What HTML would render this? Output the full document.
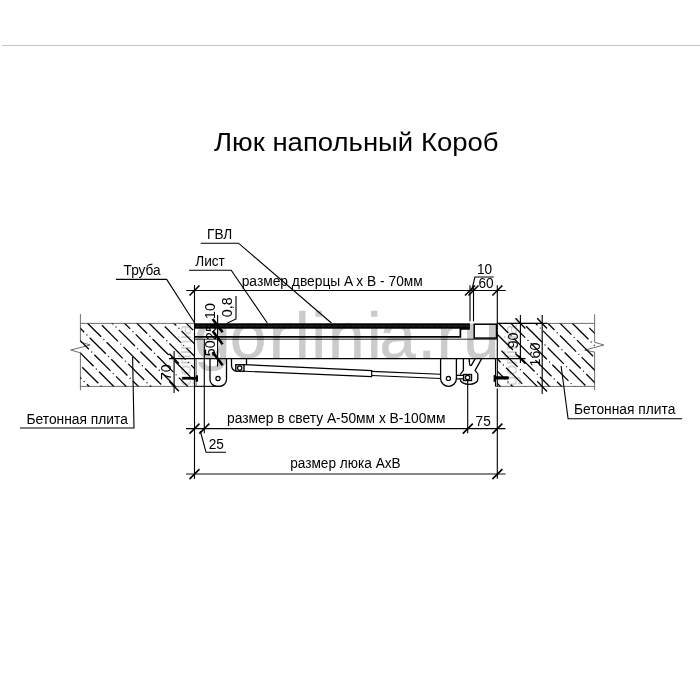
<!DOCTYPE html>
<html lang="ru"><head><meta charset="utf-8"><title>Люк напольный Короб</title>
<style>
html,body{margin:0;padding:0;background:#fff}
body{width:700px;height:700px;position:relative;overflow:hidden;font-family:"Liberation Sans",Arial,sans-serif}
.rule{position:absolute;left:2px;top:45px;width:698px;height:1px;background:#c6c6c6}
svg{position:absolute;left:0;top:0;filter:grayscale(1);font-family:"Liberation Sans",Arial,sans-serif}
</style></head><body>
<div class="rule"></div>
<svg width="700" height="700" viewBox="0 0 700 700">
<defs>
<clipPath id="cl"><rect x="80.4" y="323.4" width="114.1" height="63"/></clipPath>
<clipPath id="cr"><rect x="497.3" y="323.4" width="97.3" height="63"/></clipPath>
</defs>
<text x="194.3 230 269.1 294.9 311.4 328.3 367.1 379.5 417.7 436.8 463.2" y="358.4" font-size="65" fill="#cbcbcb" stroke="#cbcbcb" stroke-width="0.6">gorlinia.ru</text>
<text x="191" y="385.9" font-size="17.5" fill="#d0d0d0" transform="rotate(-90 191 385.9)" textLength="61.4" lengthAdjust="spacingAndGlyphs">gorlinia</text>
<text x="516.8" y="385.9" font-size="17.5" fill="#d0d0d0" transform="rotate(-90 516.8 385.9)" textLength="61.4" lengthAdjust="spacingAndGlyphs">gorlinia</text>
<path d="M80.4 314 V342 L90.1 345 L70.7 350 L80.4 352.9 V390.3" stroke="#606060" stroke-width="0.9" fill="none" stroke-linejoin="round"/>
<line x1="80.40" y1="323.40" x2="194.50" y2="323.40" stroke="#606060" stroke-width="0.9" />
<line x1="80.40" y1="386.40" x2="194.50" y2="386.40" stroke="#606060" stroke-width="0.9" />
<line x1="194.50" y1="386.35" x2="220.50" y2="386.35" stroke="#000" stroke-width="1.1" />
<g clip-path="url(#cl)" stroke="#000" stroke-width="1.3" stroke-linecap="butt">
<line x1="65.30" y1="362.65" x2="81.40" y2="378.75"/>
<circle cx="84.15" cy="381.50" r="0.72" fill="#222" stroke="none"/>
<line x1="86.90" y1="384.25" x2="103.00" y2="400.35"/>
<circle cx="105.75" cy="403.10" r="0.72" fill="#222" stroke="none"/>
<line x1="82.20" y1="367.22" x2="98.30" y2="383.32"/>
<circle cx="101.05" cy="386.07" r="0.72" fill="#222" stroke="none"/>
<line x1="77.50" y1="350.19" x2="93.60" y2="366.29"/>
<circle cx="96.35" cy="369.04" r="0.72" fill="#222" stroke="none"/>
<line x1="99.10" y1="371.79" x2="115.20" y2="387.89"/>
<circle cx="117.95" cy="390.64" r="0.72" fill="#222" stroke="none"/>
<line x1="72.80" y1="333.16" x2="88.90" y2="349.26"/>
<circle cx="91.65" cy="352.01" r="0.72" fill="#222" stroke="none"/>
<line x1="94.40" y1="354.76" x2="110.50" y2="370.86"/>
<circle cx="113.25" cy="373.61" r="0.72" fill="#222" stroke="none"/>
<line x1="116.00" y1="376.36" x2="132.10" y2="392.46"/>
<circle cx="134.85" cy="395.21" r="0.72" fill="#222" stroke="none"/>
<line x1="68.10" y1="316.13" x2="84.20" y2="332.23"/>
<circle cx="86.95" cy="334.98" r="0.72" fill="#222" stroke="none"/>
<line x1="89.70" y1="337.73" x2="105.80" y2="353.83"/>
<circle cx="108.55" cy="356.58" r="0.72" fill="#222" stroke="none"/>
<line x1="111.30" y1="359.33" x2="127.40" y2="375.43"/>
<circle cx="130.15" cy="378.18" r="0.72" fill="#222" stroke="none"/>
<line x1="132.90" y1="380.93" x2="149.00" y2="397.03"/>
<circle cx="151.75" cy="399.78" r="0.72" fill="#222" stroke="none"/>
<line x1="85.00" y1="320.70" x2="101.10" y2="336.80"/>
<circle cx="103.85" cy="339.55" r="0.72" fill="#222" stroke="none"/>
<line x1="106.60" y1="342.30" x2="122.70" y2="358.40"/>
<circle cx="125.45" cy="361.15" r="0.72" fill="#222" stroke="none"/>
<line x1="128.20" y1="363.90" x2="144.30" y2="380.00"/>
<circle cx="147.05" cy="382.75" r="0.72" fill="#222" stroke="none"/>
<line x1="149.80" y1="385.50" x2="165.90" y2="401.60"/>
<circle cx="168.65" cy="404.35" r="0.72" fill="#222" stroke="none"/>
<line x1="101.90" y1="325.27" x2="118.00" y2="341.37"/>
<circle cx="120.75" cy="344.12" r="0.72" fill="#222" stroke="none"/>
<line x1="123.50" y1="346.87" x2="139.60" y2="362.97"/>
<circle cx="142.35" cy="365.72" r="0.72" fill="#222" stroke="none"/>
<line x1="145.10" y1="368.47" x2="161.20" y2="384.57"/>
<circle cx="163.95" cy="387.32" r="0.72" fill="#222" stroke="none"/>
<line x1="97.20" y1="308.24" x2="113.30" y2="324.34"/>
<circle cx="116.05" cy="327.09" r="0.72" fill="#222" stroke="none"/>
<line x1="118.80" y1="329.84" x2="134.90" y2="345.94"/>
<circle cx="137.65" cy="348.69" r="0.72" fill="#222" stroke="none"/>
<line x1="140.40" y1="351.44" x2="156.50" y2="367.54"/>
<circle cx="159.25" cy="370.29" r="0.72" fill="#222" stroke="none"/>
<line x1="162.00" y1="373.04" x2="178.10" y2="389.14"/>
<circle cx="180.85" cy="391.89" r="0.72" fill="#222" stroke="none"/>
<line x1="114.10" y1="312.81" x2="130.20" y2="328.91"/>
<circle cx="132.95" cy="331.66" r="0.72" fill="#222" stroke="none"/>
<line x1="135.70" y1="334.41" x2="151.80" y2="350.51"/>
<circle cx="154.55" cy="353.26" r="0.72" fill="#222" stroke="none"/>
<line x1="157.30" y1="356.01" x2="173.40" y2="372.11"/>
<circle cx="176.15" cy="374.86" r="0.72" fill="#222" stroke="none"/>
<line x1="178.90" y1="377.61" x2="195.00" y2="393.71"/>
<circle cx="197.75" cy="396.46" r="0.72" fill="#222" stroke="none"/>
<line x1="131.00" y1="317.38" x2="147.10" y2="333.48"/>
<circle cx="149.85" cy="336.23" r="0.72" fill="#222" stroke="none"/>
<line x1="152.60" y1="338.98" x2="168.70" y2="355.08"/>
<circle cx="171.45" cy="357.83" r="0.72" fill="#222" stroke="none"/>
<line x1="174.20" y1="360.58" x2="190.30" y2="376.68"/>
<circle cx="193.05" cy="379.43" r="0.72" fill="#222" stroke="none"/>
<line x1="147.90" y1="321.95" x2="164.00" y2="338.05"/>
<circle cx="166.75" cy="340.80" r="0.72" fill="#222" stroke="none"/>
<line x1="169.50" y1="343.55" x2="185.60" y2="359.65"/>
<circle cx="188.35" cy="362.40" r="0.72" fill="#222" stroke="none"/>
<line x1="191.10" y1="365.15" x2="207.20" y2="381.25"/>
<circle cx="209.95" cy="384.00" r="0.72" fill="#222" stroke="none"/>
<line x1="164.80" y1="326.52" x2="180.90" y2="342.62"/>
<circle cx="183.65" cy="345.37" r="0.72" fill="#222" stroke="none"/>
<line x1="186.40" y1="348.12" x2="202.50" y2="364.22"/>
<circle cx="205.25" cy="366.97" r="0.72" fill="#222" stroke="none"/>
<line x1="160.10" y1="309.49" x2="176.20" y2="325.59"/>
<circle cx="178.95" cy="328.34" r="0.72" fill="#222" stroke="none"/>
<line x1="181.70" y1="331.09" x2="197.80" y2="347.19"/>
<circle cx="200.55" cy="349.94" r="0.72" fill="#222" stroke="none"/>
<line x1="177.00" y1="314.06" x2="193.10" y2="330.16"/>
<circle cx="195.85" cy="332.91" r="0.72" fill="#222" stroke="none"/>
</g>
<path d="M594.6 314.3 V342.3 L603.9 345 L584.7 350.1 L594.6 352 V390" stroke="#606060" stroke-width="0.9" fill="none" stroke-linejoin="round"/>
<line x1="497.30" y1="323.40" x2="594.60" y2="323.40" stroke="#606060" stroke-width="0.9" />
<line x1="495.50" y1="386.40" x2="594.60" y2="386.40" stroke="#606060" stroke-width="0.9" />
<g clip-path="url(#cr)" stroke="#000" stroke-width="1.3" stroke-linecap="butt">
<line x1="493.85" y1="380.05" x2="509.95" y2="396.15"/>
<circle cx="512.70" cy="398.90" r="0.72" fill="#222" stroke="none"/>
<line x1="489.20" y1="363.10" x2="505.30" y2="379.20"/>
<circle cx="508.05" cy="381.95" r="0.72" fill="#222" stroke="none"/>
<line x1="510.80" y1="384.70" x2="526.90" y2="400.80"/>
<circle cx="529.65" cy="403.55" r="0.72" fill="#222" stroke="none"/>
<line x1="484.55" y1="346.15" x2="500.65" y2="362.25"/>
<circle cx="503.40" cy="365.00" r="0.72" fill="#222" stroke="none"/>
<line x1="506.15" y1="367.75" x2="522.25" y2="383.85"/>
<circle cx="525.00" cy="386.60" r="0.72" fill="#222" stroke="none"/>
<line x1="501.50" y1="350.80" x2="517.60" y2="366.90"/>
<circle cx="520.35" cy="369.65" r="0.72" fill="#222" stroke="none"/>
<line x1="523.10" y1="372.40" x2="539.20" y2="388.50"/>
<circle cx="541.95" cy="391.25" r="0.72" fill="#222" stroke="none"/>
<line x1="496.85" y1="333.85" x2="512.95" y2="349.95"/>
<circle cx="515.70" cy="352.70" r="0.72" fill="#222" stroke="none"/>
<line x1="518.45" y1="355.45" x2="534.55" y2="371.55"/>
<circle cx="537.30" cy="374.30" r="0.72" fill="#222" stroke="none"/>
<line x1="540.05" y1="377.05" x2="556.15" y2="393.15"/>
<circle cx="558.90" cy="395.90" r="0.72" fill="#222" stroke="none"/>
<line x1="492.20" y1="316.90" x2="508.30" y2="333.00"/>
<circle cx="511.05" cy="335.75" r="0.72" fill="#222" stroke="none"/>
<line x1="513.80" y1="338.50" x2="529.90" y2="354.60"/>
<circle cx="532.65" cy="357.35" r="0.72" fill="#222" stroke="none"/>
<line x1="535.40" y1="360.10" x2="551.50" y2="376.20"/>
<circle cx="554.25" cy="378.95" r="0.72" fill="#222" stroke="none"/>
<line x1="557.00" y1="381.70" x2="573.10" y2="397.80"/>
<circle cx="575.85" cy="400.55" r="0.72" fill="#222" stroke="none"/>
<line x1="509.15" y1="321.55" x2="525.25" y2="337.65"/>
<circle cx="528.00" cy="340.40" r="0.72" fill="#222" stroke="none"/>
<line x1="530.75" y1="343.15" x2="546.85" y2="359.25"/>
<circle cx="549.60" cy="362.00" r="0.72" fill="#222" stroke="none"/>
<line x1="552.35" y1="364.75" x2="568.45" y2="380.85"/>
<circle cx="571.20" cy="383.60" r="0.72" fill="#222" stroke="none"/>
<line x1="573.95" y1="386.35" x2="590.05" y2="402.45"/>
<circle cx="592.80" cy="405.20" r="0.72" fill="#222" stroke="none"/>
<line x1="526.10" y1="326.20" x2="542.20" y2="342.30"/>
<circle cx="544.95" cy="345.05" r="0.72" fill="#222" stroke="none"/>
<line x1="547.70" y1="347.80" x2="563.80" y2="363.90"/>
<circle cx="566.55" cy="366.65" r="0.72" fill="#222" stroke="none"/>
<line x1="569.30" y1="369.40" x2="585.40" y2="385.50"/>
<circle cx="588.15" cy="388.25" r="0.72" fill="#222" stroke="none"/>
<line x1="521.45" y1="309.25" x2="537.55" y2="325.35"/>
<circle cx="540.30" cy="328.10" r="0.72" fill="#222" stroke="none"/>
<line x1="543.05" y1="330.85" x2="559.15" y2="346.95"/>
<circle cx="561.90" cy="349.70" r="0.72" fill="#222" stroke="none"/>
<line x1="564.65" y1="352.45" x2="580.75" y2="368.55"/>
<circle cx="583.50" cy="371.30" r="0.72" fill="#222" stroke="none"/>
<line x1="586.25" y1="374.05" x2="602.35" y2="390.15"/>
<circle cx="605.10" cy="392.90" r="0.72" fill="#222" stroke="none"/>
<line x1="538.40" y1="313.90" x2="554.50" y2="330.00"/>
<circle cx="557.25" cy="332.75" r="0.72" fill="#222" stroke="none"/>
<line x1="560.00" y1="335.50" x2="576.10" y2="351.60"/>
<circle cx="578.85" cy="354.35" r="0.72" fill="#222" stroke="none"/>
<line x1="581.60" y1="357.10" x2="597.70" y2="373.20"/>
<circle cx="600.45" cy="375.95" r="0.72" fill="#222" stroke="none"/>
<line x1="555.35" y1="318.55" x2="571.45" y2="334.65"/>
<circle cx="574.20" cy="337.40" r="0.72" fill="#222" stroke="none"/>
<line x1="576.95" y1="340.15" x2="593.05" y2="356.25"/>
<circle cx="595.80" cy="359.00" r="0.72" fill="#222" stroke="none"/>
<line x1="572.30" y1="323.20" x2="588.40" y2="339.30"/>
<circle cx="591.15" cy="342.05" r="0.72" fill="#222" stroke="none"/>
<line x1="593.90" y1="344.80" x2="610.00" y2="360.90"/>
<circle cx="612.75" cy="363.65" r="0.72" fill="#222" stroke="none"/>
<line x1="589.25" y1="327.85" x2="605.35" y2="343.95"/>
<circle cx="608.10" cy="346.70" r="0.72" fill="#222" stroke="none"/>
</g>
<rect x="194.5" y="323.3" width="275.4" height="5.4" fill="#000"/>
<line x1="196.00" y1="326.00" x2="469.00" y2="326.00" stroke="#5a5a5a" stroke-width="1.12" stroke-dasharray="0.6 0.6"/>
<path d="M194.5 336.9 H460.4 V328.9 H469.8" stroke="#000" stroke-width="1.7" fill="none" />
<line x1="194.50" y1="339.20" x2="497.00" y2="339.20" stroke="#111" stroke-width="0.9" />
<rect x="474.2" y="324.2" width="22.2" height="13.9" fill="none" stroke="#000" stroke-width="1.5"/>
<line x1="169.00" y1="358.60" x2="525.50" y2="358.60" stroke="#000" stroke-width="1.1" />
<line x1="196.10" y1="358.60" x2="196.10" y2="386.40" stroke="#444" stroke-width="0.9" />
<line x1="495.50" y1="358.60" x2="495.50" y2="386.40" stroke="#000" stroke-width="1.12" />
<rect x="182.2" y="376.9" width="14" height="2.7" fill="#000"/>
<rect x="195.8" y="375.3" width="2.2" height="6.4" fill="#000"/>
<rect x="495" y="376.3" width="14" height="3.2" rx="1.4" fill="#000"/>
<rect x="493.6" y="375.1" width="1.9" height="6.7" fill="#000"/>
<path d="M210 358.6 V379.5 A6.8 6.8 0 0 0 216.8 386.3 H219.7 A6.8 6.8 0 0 0 226.5 379.5 V358.6" stroke="#000" stroke-width="1.3" fill="none" />
<circle cx="218" cy="378.5" r="2.1" fill="none" stroke="#000" stroke-width="1.2"/>
<path d="M231.5 358.6 V365.5 Q231.8 370.2 236 371" stroke="#000" stroke-width="1.3" fill="none" />
<rect x="235.8" y="364.8" width="8.2" height="6.4" fill="none" stroke="#000" stroke-width="1.4"/>
<circle cx="239.7" cy="368.1" r="2.2" fill="none" stroke="#000" stroke-width="1.2"/>
<line x1="246.50" y1="358.60" x2="246.50" y2="364.70" stroke="#000" stroke-width="1.3" />
<path d="M244 364.6 L371.7 370.6 L371.7 376.6 L244 371.2" stroke="#000" stroke-width="1.15" fill="none" />
<path d="M371.7 371.4 L440.5 374.3 M371.7 375.5 L440.5 378.5" stroke="#000" stroke-width="1.1" fill="none" />
<path d="M440.6 358.6 V378.4 A7.9 7.9 0 0 0 456.4 378.4 V358.6" stroke="#000" stroke-width="1.3" fill="none" />
<circle cx="448.4" cy="378.4" r="2.1" fill="none" stroke="#000" stroke-width="1.2"/>
<path d="M456.4 375.3 H463.8 M456.4 378.9 H463.8" stroke="#000" stroke-width="1.2" fill="none" />
<path d="M463.4 358.6 V370.3 L460.1 374.6 M460.3 379.4 A8.75 4.9 0 0 0 477.8 379.4 V373.9 L475.1 370.5 L481.7 358.6" stroke="#000" stroke-width="1.3" fill="none" />
<path d="M469.1 358.6 L469.6 364.5 Q470.2 365.9 471.5 365.1 L475.2 358.6" stroke="#000" stroke-width="1.3" fill="none" />
<rect x="463.6" y="374.5" width="7.9" height="6" fill="none" stroke="#000" stroke-width="1.4"/>
<circle cx="467.6" cy="377.5" r="2.2" fill="none" stroke="#000" stroke-width="1.2"/>
<line x1="194.50" y1="285.00" x2="194.50" y2="478.80" stroke="#000" stroke-width="1.12" />
<line x1="204.30" y1="339.00" x2="204.30" y2="433.30" stroke="#000" stroke-width="1.12" />
<line x1="467.70" y1="380.50" x2="467.70" y2="433.30" stroke="#000" stroke-width="1.12" />
<line x1="497.30" y1="285.30" x2="497.30" y2="386.80" stroke="#000" stroke-width="1.12" />
<line x1="497.30" y1="388.60" x2="497.30" y2="478.80" stroke="#000" stroke-width="1.12" />
<line x1="470.00" y1="285.30" x2="470.00" y2="321.30" stroke="#000" stroke-width="1.12" />
<line x1="473.50" y1="285.30" x2="473.50" y2="321.30" stroke="#000" stroke-width="1.12" />
<line x1="186.20" y1="290.50" x2="505.70" y2="290.50" stroke="#000" stroke-width="1.12" />
<line x1="189.50" y1="295.50" x2="199.50" y2="285.50" stroke="#000" stroke-width="1.6" />
<line x1="465.00" y1="295.50" x2="475.00" y2="285.50" stroke="#000" stroke-width="1.6" />
<line x1="468.50" y1="295.50" x2="478.50" y2="285.50" stroke="#000" stroke-width="1.6" />
<line x1="492.40" y1="295.50" x2="502.40" y2="285.50" stroke="#000" stroke-width="1.6" />
<line x1="186.00" y1="428.60" x2="505.50" y2="428.60" stroke="#000" stroke-width="1.12" />
<line x1="189.50" y1="433.60" x2="199.50" y2="423.60" stroke="#000" stroke-width="1.6" />
<line x1="199.30" y1="433.60" x2="209.30" y2="423.60" stroke="#000" stroke-width="1.6" />
<line x1="462.80" y1="433.60" x2="472.80" y2="423.60" stroke="#000" stroke-width="1.6" />
<line x1="492.40" y1="433.60" x2="502.40" y2="423.60" stroke="#000" stroke-width="1.6" />
<line x1="186.00" y1="474.00" x2="505.50" y2="474.00" stroke="#111" stroke-width="1.12" />
<line x1="189.50" y1="479.10" x2="199.50" y2="469.10" stroke="#000" stroke-width="1.6" />
<line x1="492.40" y1="479.10" x2="502.40" y2="469.10" stroke="#000" stroke-width="1.6" />
<line x1="217.60" y1="315.00" x2="217.60" y2="366.50" stroke="#000" stroke-width="1.12" />
<line x1="212.60" y1="319.00" x2="222.60" y2="332.20" stroke="#000" stroke-width="2.6" />
<line x1="212.60" y1="331.00" x2="222.60" y2="344.20" stroke="#000" stroke-width="2.6" />
<line x1="212.60" y1="352.00" x2="222.60" y2="365.20" stroke="#000" stroke-width="2.6" />
<line x1="174.10" y1="351.00" x2="174.10" y2="393.00" stroke="#000" stroke-width="1.12" />
<line x1="169.30" y1="353.70" x2="178.90" y2="363.50" stroke="#000" stroke-width="1.45" />
<line x1="169.30" y1="381.50" x2="178.90" y2="391.30" stroke="#000" stroke-width="1.45" />
<line x1="520.40" y1="315.00" x2="520.40" y2="363.00" stroke="#000" stroke-width="1.12" />
<line x1="515.50" y1="318.30" x2="525.30" y2="328.50" stroke="#000" stroke-width="1.4" />
<line x1="515.50" y1="353.50" x2="525.30" y2="363.70" stroke="#000" stroke-width="1.4" />
<line x1="542.20" y1="315.00" x2="542.20" y2="394.00" stroke="#000" stroke-width="1.12" />
<line x1="537.20" y1="318.30" x2="547.00" y2="328.50" stroke="#000" stroke-width="1.4" />
<line x1="537.20" y1="381.30" x2="547.00" y2="391.50" stroke="#000" stroke-width="1.4" />
<line x1="497.30" y1="323.40" x2="547.00" y2="323.40" stroke="#000" stroke-width="1.12" />
<path d="M200.8 243.2 H238.5 L331.4 323" stroke="#000" stroke-width="1.12" fill="none" />
<path d="M189 270.2 H231.2 L267.3 323" stroke="#000" stroke-width="1.12" fill="none" />
<path d="M115.9 279.4 H166.7 L194.7 323" stroke="#000" stroke-width="1.12" fill="none" />
<path d="M236 296 V319 L227 323.2" stroke="#000" stroke-width="1.12" fill="none" />
<path d="M493.7 277 H474.9 L471.8 290" stroke="#000" stroke-width="1.12" fill="none" />
<path d="M226 452.2 H206 L200.3 431" stroke="#000" stroke-width="1.12" fill="none" />
<path d="M20 428 H134 L132.6 357" stroke="#000" stroke-width="1.12" fill="none" />
<path d="M682 418.7 H568.1 L561.1 366" stroke="#000" stroke-width="1.12" fill="none" />
<text x="214.00" y="151.10" font-size="26.2" text-anchor="start" fill="#000" textLength="284.6" lengthAdjust="spacingAndGlyphs">Люк напольный Короб</text>
<text x="0" y="0" font-size="14.15" text-anchor="start" fill="#000" transform="translate(207.00 239.30) scale(0.9647 1)" >ГВЛ</text>
<text x="0" y="0" font-size="14.15" text-anchor="start" fill="#000" transform="translate(195.20 266.30) scale(0.9647 1)" >Лист</text>
<text x="0" y="0" font-size="14.15" text-anchor="start" fill="#000" transform="translate(123.60 275.30) scale(0.9647 1)" >Труба</text>
<text x="0" y="0" font-size="14.15" text-anchor="start" fill="#000" transform="translate(241.70 286.00) scale(0.975 1)" >размер дверцы A x B - 70мм</text>
<text x="0" y="0" font-size="14.15" text-anchor="middle" fill="#000" transform="translate(484.60 273.90) scale(0.9647 1)" >10</text>
<text x="0" y="0" font-size="14.15" text-anchor="middle" fill="#000" transform="translate(486.00 287.60) scale(0.9647 1)" >60</text>
<text x="0" y="0" font-size="14.15" text-anchor="start" fill="#000" transform="translate(227.00 423.40) scale(0.977 1)" >размер в свету А-50мм х В-100мм</text>
<text x="0" y="0" font-size="14.15" text-anchor="middle" fill="#000" transform="translate(216.30 449.10) scale(0.9647 1)" >25</text>
<text x="0" y="0" font-size="14.15" text-anchor="middle" fill="#000" transform="translate(483.20 425.50) scale(0.9647 1)" >75</text>
<text x="0" y="0" font-size="14.15" text-anchor="start" fill="#000" transform="translate(290.20 468.40) scale(0.9647 1)" >размер люка AxB</text>
<text x="0" y="0" font-size="14.15" text-anchor="start" fill="#000" transform="translate(26.50 423.50) scale(0.976 1)" >Бетонная плита</text>
<text x="0" y="0" font-size="14.15" text-anchor="start" fill="#000" transform="translate(574.00 414.40) scale(0.976 1)" >Бетонная плита</text>
<text x="215.00" y="311.00" font-size="14.3" text-anchor="middle" fill="#000" transform="rotate(-90 215.00 311.00)" >10</text>
<text x="232.00" y="307.30" font-size="14.3" text-anchor="middle" fill="#000" transform="rotate(-90 232.00 307.30)" >0,8</text>
<text x="215.50" y="332.00" font-size="14.3" text-anchor="middle" fill="#000" transform="rotate(-90 215.50 332.00)" >25</text>
<text x="215.50" y="348.30" font-size="14.3" text-anchor="middle" fill="#000" transform="rotate(-90 215.50 348.30)" >50</text>
<text x="171.00" y="372.30" font-size="14.3" text-anchor="middle" fill="#000" transform="rotate(-90 171.00 372.30)" >70</text>
<text x="518.30" y="340.50" font-size="14.3" text-anchor="middle" fill="#000" transform="rotate(-90 518.30 340.50)" >90</text>
<text x="540.40" y="354.50" font-size="14.3" text-anchor="middle" fill="#000" transform="rotate(-90 540.40 354.50)" >160</text>
</svg>
</body></html>
